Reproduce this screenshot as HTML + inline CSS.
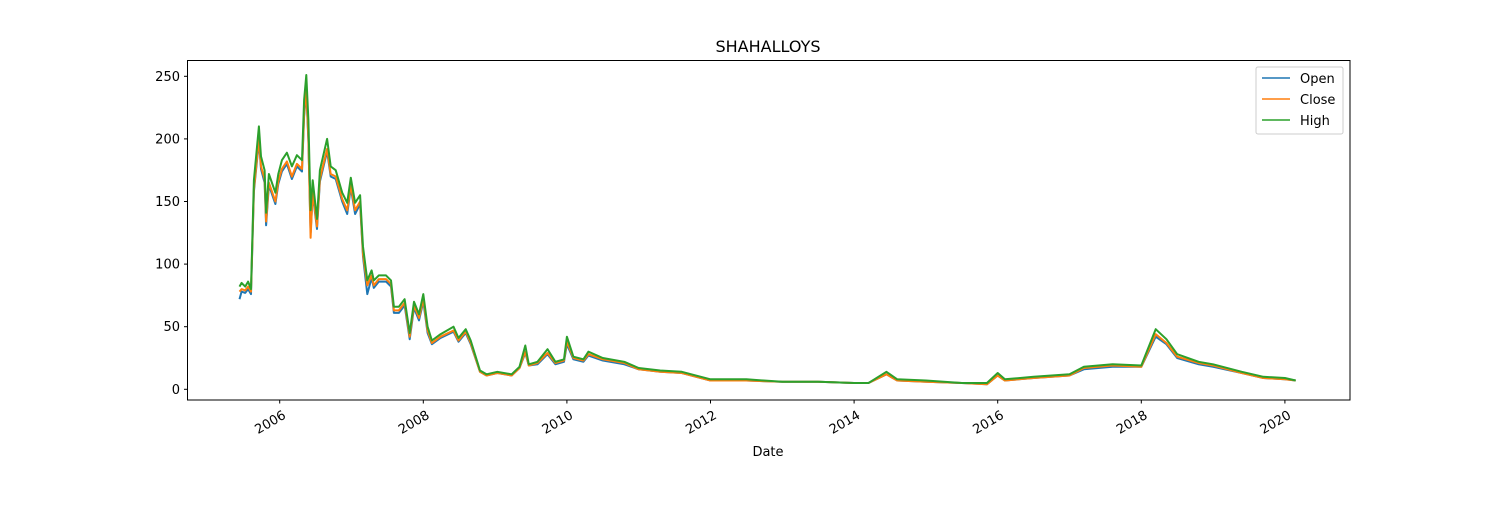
<!DOCTYPE html>
<html><head><meta charset="utf-8"><style>
body{margin:0;background:#fff;font-family:"Liberation Sans","DejaVu Sans",sans-serif}
svg text{font-family:"DejaVu Sans","Liberation Sans",sans-serif;font-size:13px;fill:#000}
</style></head><body>
<svg id="chart" width="1500" height="500">
<rect width="1500" height="500" fill="#fff"/>
<text x="768" y="52" text-anchor="middle" style="font-size:16px">SHAHALLOYS</text>
<g id="marks"></g>
<rect x="187.5" y="60.5" width="1162.5" height="339.5" fill="none" stroke="#000" stroke-width="1"/>
<g id="axes"></g>
<text x="768" y="456" text-anchor="middle">Date</text>
<g>
<rect x="1256" y="67" width="87" height="67" rx="2" fill="#fff" stroke="#ccc"/>
<line x1="1262" y1="78" x2="1290" y2="78" stroke="#1f77b4" stroke-width="1.5"/>
<text x="1300" y="83">Open</text>
<line x1="1262" y1="99" x2="1290" y2="99" stroke="#ff7f0e" stroke-width="1.5"/>
<text x="1300" y="104">Close</text>
<line x1="1262" y1="120" x2="1290" y2="120" stroke="#2ca02c" stroke-width="1.5"/>
<text x="1300" y="125">High</text>
</g>
</svg>
<script>
const dates=[2005.44,2005.47,2005.52,2005.56,2005.60,2005.64,2005.71,2005.74,2005.79,2005.81,2005.85,2005.94,2005.98,2006.03,2006.10,2006.17,2006.24,2006.31,2006.34,2006.37,2006.40,2006.43,2006.46,2006.52,2006.56,2006.66,2006.71,2006.78,2006.87,2006.94,2006.99,2007.05,2007.12,2007.16,2007.22,2007.28,2007.31,2007.38,2007.48,2007.55,2007.59,2007.66,2007.74,2007.81,2007.87,2007.94,2008.00,2008.06,2008.12,2008.24,2008.42,2008.49,2008.59,2008.66,2008.79,2008.88,2009.03,2009.23,2009.34,2009.42,2009.47,2009.59,2009.73,2009.84,2009.96,2010.00,2010.09,2010.23,2010.30,2010.50,2010.80,2011.00,2011.30,2011.60,2012.00,2012.50,2013.00,2013.50,2014.00,2014.20,2014.45,2014.60,2015.00,2015.50,2015.85,2016.00,2016.10,2016.50,2017.00,2017.20,2017.60,2018.00,2018.20,2018.35,2018.50,2018.80,2019.00,2019.40,2019.70,2020.00,2020.15];
const highVals=[82,85,82,86,80,167,210,186,175,141,172,157,172,183,189,178,187,183,231,251,215,143,167,136,175,200,178,175,157,149,169,149,155,114,87,95,87,91,91,87,66,66,72,45,70,60,76,50,39,44,50,41,48,39,15,12,14,12,18,35,20,22,32,22,24,42,26,24,30,25,22,17,15,14,8,8,6,6,5,5,14,8,7,5,5,13,8,10,12,18,20,19,48,40,28,22,20,14,10,9,7];
const closeVals=[78,80,79,82,78,160,200,178,168,134,165,150,166,176,182,170,180,176,220,240,200,121,158,130,168,192,172,170,152,143,163,143,150,108,83,91,83,88,88,84,63,63,69,42,67,57,72,47,37,42,47,39,46,37,14,11,13,11,17,30,19,21,29,21,23,38,25,23,28,24,21,16,14,13,7,7,6,6,5,5,12,7,6,5,4,11,7,9,11,17,19,18,44,37,26,21,19,13,9,8,7];
const openVals=[72,78,77,80,76,158,198,176,165,131,163,148,164,174,180,168,178,174,218,238,198,125,156,128,166,190,170,168,150,140,161,140,148,106,76,89,81,86,86,82,61,61,67,40,65,55,70,45,36,41,46,38,45,36,14,11,13,11,17,29,19,20,28,20,22,36,24,22,27,23,20,16,14,13,7,7,6,6,5,5,12,7,6,5,4,11,7,9,11,16,18,18,42,36,25,20,18,13,9,8,7];
const xTicks=[2006,2008,2010,2012,2014,2016,2018,2020];
const yTicks=[0,50,100,150,200,250];
function xs(d){return 279.7+(d-2006)*71.8;}
function ys(v){return 389.3-v*1.252;}
const NS='http://www.w3.org/2000/svg';
const marks=document.getElementById('marks'),axes=document.getElementById('axes');
[['open',openVals,'#1f77b4'],['close',closeVals,'#ff7f0e'],['high',highVals,'#2ca02c']].forEach(([n,vals,c])=>{
 const p=document.createElementNS(NS,'polyline');
 p.setAttribute('points',vals.map((v,i)=>xs(dates[i]).toFixed(1)+','+ys(v).toFixed(1)).join(' '));
 p.setAttribute('fill','none');p.setAttribute('stroke',c);p.setAttribute('stroke-width','2');p.setAttribute('stroke-linejoin','round');
 
 
 marks.appendChild(p);
});
xTicks.forEach(t=>{
 const x=xs(t);
 const l=document.createElementNS(NS,'line');
 l.setAttribute('x1',x);l.setAttribute('x2',x);l.setAttribute('y1',400);l.setAttribute('y2',403.5);l.setAttribute('stroke','#000');
 
 
 axes.appendChild(l);
 const tx=document.createElementNS(NS,'text');
 tx.setAttribute('transform','translate('+(x+2)+',409) rotate(-30)');tx.setAttribute('text-anchor','end');tx.setAttribute('dy','10');
 tx.textContent=t;
 
 
 axes.appendChild(tx);
});
yTicks.forEach(t=>{
 const y=ys(t);
 const l=document.createElementNS(NS,'line');
 l.setAttribute('x1',184);l.setAttribute('x2',187.5);l.setAttribute('y1',y);l.setAttribute('y2',y);l.setAttribute('stroke','#000');
 
 
 axes.appendChild(l);
 const tx=document.createElementNS(NS,'text');
 tx.setAttribute('x',180);tx.setAttribute('y',y+4.5);tx.setAttribute('text-anchor','end');
 tx.textContent=t;
 
 
 axes.appendChild(tx);
});
</script>
</body></html>
